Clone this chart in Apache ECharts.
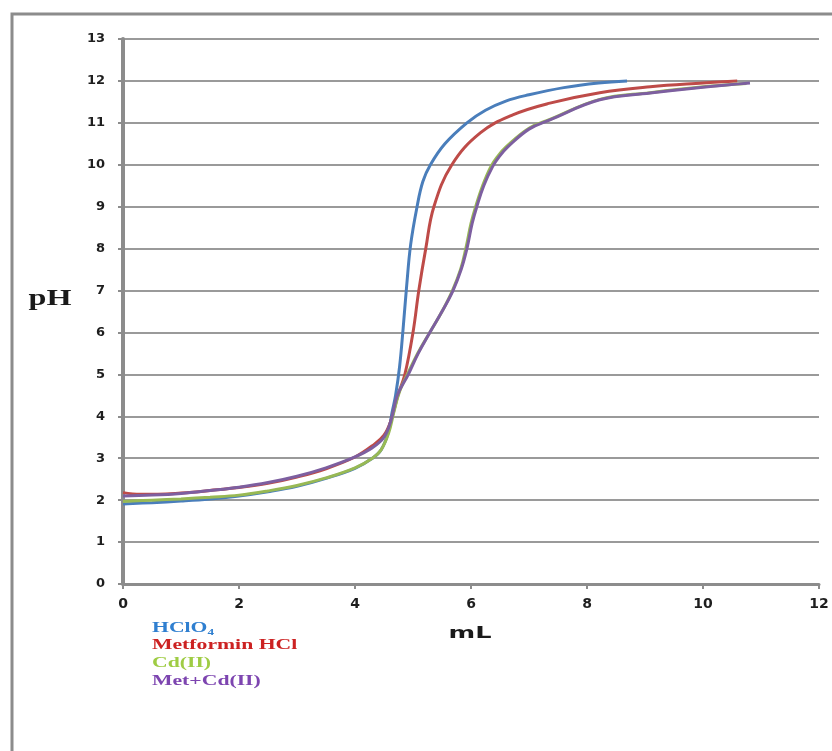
<!DOCTYPE html>
<html>
<head>
<meta charset="utf-8">
<script src="https://cdn.jsdelivr.net/npm/echarts@6/dist/echarts.min.js"></script>
<style>
  html, body { margin: 0; padding: 0; background: #fff; }
  #chart { width: 832px; height: 751px; }
</style>
</head>
<body>
<div id="chart"></div>
<script>
// Titration curves: pH against added titrant volume (mL)
const seriesNames = ['HClO\u2084', 'Metformin HCl', 'Cd(II)', 'Met+Cd(II)'];
const lineColors = ['#4a7ebb', '#be4b48', '#98b954', '#7d5fa0'];
const legendColors = ['#2f7fd0', '#cc2222', '#9fcc44', '#7d45b0'];

const xTicks = [0, 2, 4, 6, 8, 10, 12];
const yTicks = [0, 1, 2, 3, 4, 5, 6, 7, 8, 9, 10, 11, 12, 13];

// [mL, pH]
const hclo4 = [
  [0, 1.91], [0.5, 1.94], [1, 1.98], [1.5, 2.03], [2, 2.1], [2.5, 2.2], [3, 2.33],
  [3.5, 2.52], [4, 2.76], [4.3, 3.0], [4.45, 3.2], [4.57, 3.6], [4.64, 4.1],
  [4.7, 4.5], [4.77, 5.2], [4.83, 6.1], [4.89, 7.1], [4.96, 8.1], [5.07, 9.0],
  [5.17, 9.6], [5.3, 10.0], [5.55, 10.5], [5.93, 11.0], [6.25, 11.3], [6.6, 11.52],
  [7.0, 11.67], [7.6, 11.84], [8.2, 11.95], [8.69, 12.0]
];
const metformin = [
  [0, 2.18], [0.3, 2.14], [0.6, 2.14], [1, 2.17], [1.5, 2.23], [2, 2.3], [2.5, 2.4],
  [3, 2.55], [3.5, 2.75], [4, 3.03], [4.3, 3.3], [4.5, 3.55], [4.62, 3.9],
  [4.74, 4.5], [4.86, 5.0], [5.0, 6.0], [5.1, 7.0], [5.22, 8.0], [5.36, 9.0],
  [5.67, 10.0], [6.16, 10.76], [6.72, 11.19], [7.36, 11.47],
  [8.22, 11.72], [9.09, 11.86], [10, 11.95], [10.59, 12.0]
];
const cd = [
  [0, 1.97], [0.5, 2.0], [1, 2.03], [1.5, 2.07], [2, 2.12], [2.5, 2.22], [3, 2.35],
  [3.5, 2.53], [4, 2.77], [4.3, 3.0], [4.45, 3.2], [4.58, 3.6], [4.67, 4.1],
  [4.77, 4.6], [4.92, 5.05], [5.08, 5.5], [5.29, 6.0], [5.5, 6.5], [5.68, 7.0],
  [5.82, 7.5], [5.91, 8.0], [6.0, 8.6], [6.08, 9.0], [6.2, 9.5], [6.34, 9.95],
  [6.46, 10.2], [6.6, 10.42], [7.0, 10.87], [7.36, 11.08], [8.22, 11.56], [9.09, 11.72],
  [10, 11.86], [10.75, 11.94]
];
const metCd = [
  [0, 2.1], [0.5, 2.12], [1, 2.16], [1.5, 2.23], [2, 2.31], [2.5, 2.42], [3, 2.57],
  [3.5, 2.77], [4, 3.03], [4.3, 3.25], [4.5, 3.5], [4.62, 3.9], [4.73, 4.5],
  [4.92, 5.0], [5.09, 5.5], [5.29, 6.0], [5.5, 6.5], [5.69, 7.0], [5.83, 7.5],
  [5.93, 8.0], [6.02, 8.6], [6.1, 9.0], [6.22, 9.5], [6.37, 9.95], [6.49, 10.2],
  [6.63, 10.42], [7.0, 10.85], [7.36, 11.07], [8.22, 11.55], [9.09, 11.71], [10, 11.85], [10.81, 11.95]
];
const seriesData = [hclo4, metformin, cd, metCd];

const chart = echarts.init(document.getElementById('chart'), null, { renderer: 'canvas' });

const legendTexts = seriesNames.map((name, i) => ({
  type: 'text',
  x: 152,
  y: 628 + i * 17.7,
  scaleX: 1.55,
  style: {
    text: name,
    fill: legendColors[i],
    font: 'bold 14px "Liberation Serif", "DejaVu Serif", serif',
    textAlign: 'left',
    textVerticalAlign: 'middle'
  }
}));

chart.setOption({
  animation: false,
  backgroundColor: '#ffffff',
  grid: { left: 123, top: 39, right: 13, bottom: 167, containLabel: false },
  xAxis: {
    type: 'value',
    min: xTicks[0],
    max: xTicks[xTicks.length - 1],
    interval: 2,
    axisLine: { show: true, lineStyle: { color: '#8c8c8c', width: 3 } },
    axisTick: { show: true, length: 5, lineStyle: { color: '#8c8c8c', width: 2 } },
    axisLabel: {
      margin: 13,
      color: '#1e1e1e',
      fontFamily: '"DejaVu Sans", Verdana, sans-serif',
      fontWeight: 'bold',
      fontSize: 14
    },
    splitLine: { show: false }
  },
  yAxis: {
    type: 'value',
    min: yTicks[0],
    max: yTicks[yTicks.length - 1],
    interval: 1,
    axisLine: { show: true, onZero: false, lineStyle: { color: '#8c8c8c', width: 4 } },
    axisTick: { show: true, length: 5, lineStyle: { color: '#8c8c8c', width: 2 } },
    axisLabel: {
      margin: 18,
      color: '#1e1e1e',
      fontFamily: '"DejaVu Sans", Verdana, sans-serif',
      fontWeight: 'bold',
      fontSize: 13
    },
    splitLine: { show: true, lineStyle: { color: '#9a9a9a', width: 2 } }
  },
  series: seriesData.map((data, i) => ({
    name: seriesNames[i],
    type: 'line',
    data: data,
    smooth: 0.4,
    showSymbol: false,
    symbol: 'none',
    lineStyle: { color: lineColors[i], width: 3 },
    itemStyle: { color: lineColors[i] },
    z: 2 + i
  })),
  graphic: [
    {
      type: 'rect',
      shape: { x: 12, y: 14, width: 900, height: 900 },
      style: { fill: null, stroke: '#8c8c8c', lineWidth: 3 },
      silent: true,
      z: -1
    },
    {
      type: 'text',
      x: 50,
      y: 299,
      scaleX: 1.4,
      style: {
        text: 'pH',
        fill: '#1a1a1a',
        font: 'bold 23px "Liberation Serif", "DejaVu Serif", serif',
        textAlign: 'center',
        textVerticalAlign: 'middle'
      }
    },
    {
      type: 'text',
      x: 470,
      y: 634,
      scaleX: 1.6,
      style: {
        text: 'mL',
        fill: '#1a1a1a',
        font: 'bold 16px "DejaVu Sans", Verdana, sans-serif',
        textAlign: 'center',
        textVerticalAlign: 'middle'
      }
    }
  ].concat(legendTexts)
});
</script>
</body>
</html>
